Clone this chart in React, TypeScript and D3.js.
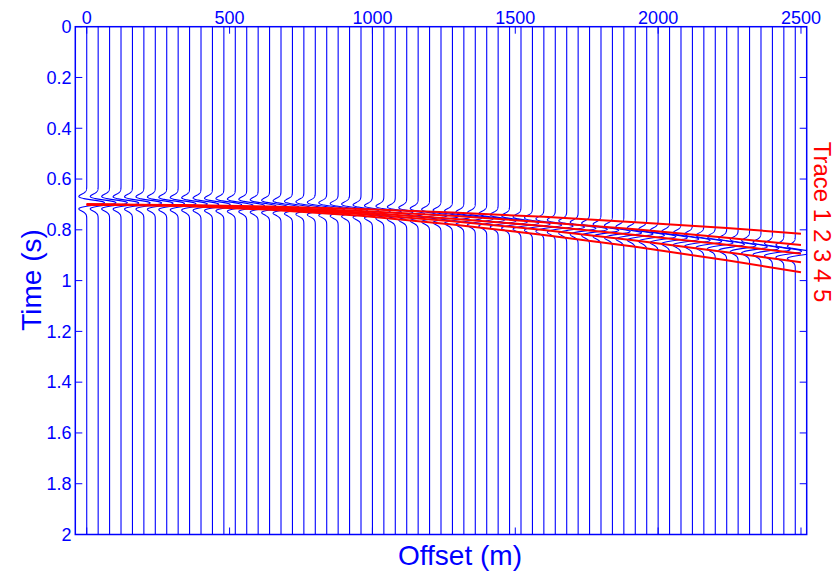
import React from "react";
import * as d3 from "d3";

// Receiver offsets (m): one trace every 40 m
const traceOffsets: number[] = d3.range(0, 2481, 40);

// Reflection arrival time (s) picked on each trace
const eventTimes: number[] = [
  0.693, 0.693, 0.693, 0.694, 0.694, 0.694, 0.695, 0.696, 0.697, 0.698,
  0.699, 0.700, 0.701, 0.703, 0.704, 0.706, 0.708, 0.710, 0.712, 0.714,
  0.716, 0.718, 0.721, 0.723, 0.726, 0.729, 0.731, 0.734, 0.737, 0.740,
  0.744, 0.747, 0.750, 0.754, 0.757, 0.761, 0.765, 0.769, 0.773, 0.777,
  0.781, 0.785, 0.789, 0.794, 0.798, 0.802, 0.807, 0.812, 0.816, 0.821,
  0.826, 0.831, 0.836, 0.841, 0.846, 0.851, 0.857, 0.862, 0.867, 0.873,
  0.878, 0.884, 0.889,
];

// Moveout curves overlaid in red (offset in m, time in s)
const curveOffsets: number[] = [0, 320, 640, 960, 1280, 1600, 1920, 2240, 2500];
const curve1: number[] = [0.700, 0.702, 0.708, 0.718, 0.732, 0.749, 0.770, 0.793, 0.815];
const curve2: number[] = [0.700, 0.703, 0.712, 0.726, 0.745, 0.770, 0.798, 0.831, 0.860];
const curve3: number[] = [0.700, 0.704, 0.714, 0.732, 0.756, 0.785, 0.820, 0.859, 0.894];
const curve4: number[] = [0.700, 0.704, 0.717, 0.738, 0.766, 0.801, 0.842, 0.888, 0.928];
const curve5: number[] = [0.700, 0.705, 0.721, 0.745, 0.779, 0.820, 0.867, 0.920, 0.967];
const curves: number[][] = [curve1, curve2, curve3, curve4, curve5];

// Axis ticks
const offsetTicks: number[] = [0, 500, 1000, 1500, 2000, 2500];
const timeTicks: number[] = [0, 0.2, 0.4, 0.6, 0.8, 1, 1.2, 1.4, 1.6, 1.8, 2];

const W = 835;
const H = 573;
const BLUE = "#0000ff";
const RED = "#ff0000";
const FONT = "'Liberation Sans', Arial, Helvetica, sans-serif";

// Ricker wavelet used for the wiggle display
const peakFreq = 16; // Hz
const ricker = (tau: number) => {
  const a = Math.PI * peakFreq * tau;
  const a2 = a * a;
  return (1 - 2 * a2) * Math.exp(-a2);
};
const wiggleGain = 62; // m of deflection at unit amplitude

export default function App() {
  const x = d3.scaleLinear().domain([-40, 2520]).range([75.3, 806.7]);
  const y = d3.scaleLinear().domain([0, 2]).range([26.7, 534.5]);
  const [x0, x1] = x.range();
  const [y0, y1] = y.range();

  const wiggle = d3
    .line<[number, number]>()
    .x((d) => x(d[0]))
    .y((d) => y(d[1]));

  const tracePaths = traceOffsets.map((off, i) => {
    const te = eventTimes[i];
    const pts: [number, number][] = [[off, 0]];
    for (let t = te - 0.09; t <= te + 0.09; t += 0.001) {
      pts.push([off + wiggleGain * ricker(t - te), t]);
    }
    pts.push([off, 2]);
    return wiggle(pts) as string;
  });

  const curveLine = d3
    .line<number>()
    .x((_, i) => x(curveOffsets[i]))
    .y((d) => y(d));

  const tickLen = 7;

  return (
    <svg
      width={W}
      height={H}
      style={{ position: "fixed", left: 0, top: 0, background: "#fff" }}
      fontFamily={FONT}
    >
      <defs>
        <clipPath id="plotClip">
          <rect x={x0} y={y0} width={x1 - x0} height={y1 - y0} />
        </clipPath>
      </defs>

      <g clipPath="url(#plotClip)">
        {tracePaths.map((d, i) => (
          <path key={i} d={d} fill="none" stroke={BLUE} strokeWidth={1.1} />
        ))}
        {curves.map((c, i) => (
          <path
            key={i}
            d={curveLine(c) as string}
            fill="none"
            stroke={RED}
            strokeWidth={2}
          />
        ))}
      </g>

      {/* frame */}
      <rect
        x={x0}
        y={y0}
        width={x1 - x0}
        height={y1 - y0}
        fill="none"
        stroke={BLUE}
        strokeWidth={1.5}
      />

      {/* offset ticks (top labelled, bottom plain) */}
      {offsetTicks.map((t) => (
        <g key={t}>
          <line x1={x(t)} x2={x(t)} y1={y0} y2={y0 + tickLen} stroke={BLUE} strokeWidth={1} />
          <line x1={x(t)} x2={x(t)} y1={y1} y2={y1 - tickLen} stroke={BLUE} strokeWidth={1} />
          <text x={x(t)} y={23.5} fill={BLUE} fontSize={18} textAnchor="middle">
            {t}
          </text>
        </g>
      ))}

      {/* time ticks (left labelled, right plain) */}
      {timeTicks.map((t) => (
        <g key={t}>
          <line x1={x0} x2={x0 + tickLen} y1={y(t)} y2={y(t)} stroke={BLUE} strokeWidth={1} />
          <line x1={x1} x2={x1 - tickLen} y1={y(t)} y2={y(t)} stroke={BLUE} strokeWidth={1} />
          <text x={71.5} y={y(t) + 6.3} fill={BLUE} fontSize={18} textAnchor="end">
            {t}
          </text>
        </g>
      ))}

      {/* axis titles */}
      <text
        transform="translate(41,280) rotate(-90)"
        fill={BLUE}
        fontSize={28}
        textAnchor="middle"
      >
        Time (s)
      </text>
      <text x={460} y={565} fill={BLUE} fontSize={28} textAnchor="middle">
        Offset (m)
      </text>
      <text
        transform="translate(814,222) rotate(90)"
        fill={RED}
        fontSize={24}
        textAnchor="middle"
      >
        Trace 1 2 3 4 5
      </text>
    </svg>
  );
}
